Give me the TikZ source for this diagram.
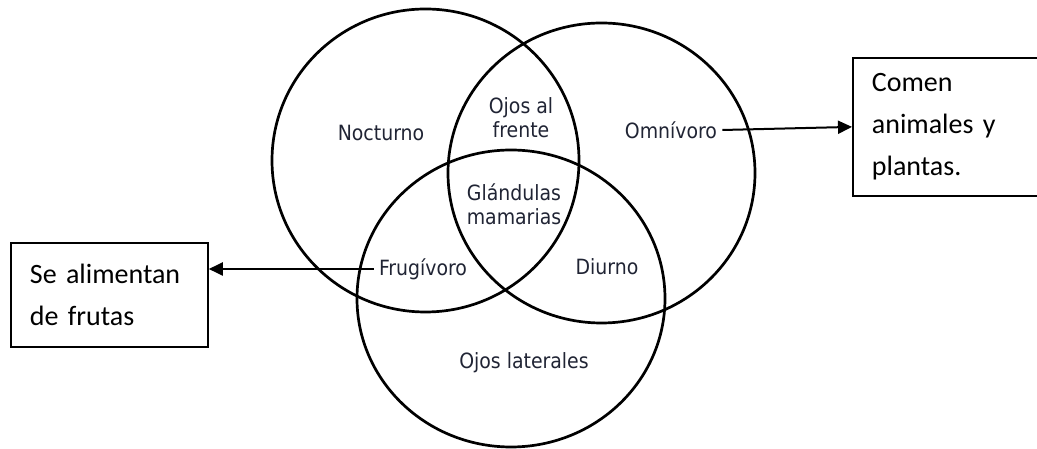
\documentclass[tikz,border=0pt]{standalone}
\usepackage{fontspec}
\newfontfamily\vennfont{DejaVu Sans Condensed}
\newfontfamily\boxfont{Carlito}
\definecolor{venntext}{RGB}{32,36,52}
\usetikzlibrary{arrows.meta, positioning}

\begin{document}
\begin{tikzpicture}[x=1pt, y=1pt, line width=2.7pt,
  vennlabel/.style={font=\vennfont\fontsize{21}{24}\selectfont, text=venntext, align=center, inner sep=4pt},
  notebox/.style={draw, line width=1.8pt, font=\boxfont\fontsize{28}{42}\selectfont, align=left, inner xsep=19pt, inner ysep=0pt},
  pointer/.style={-{Triangle[length=14pt, width=13pt]}, line width=2pt}];

\useasboundingbox (0,0) rectangle (1037,449);

\draw (425.5,288.5) ellipse [x radius=153.5, y radius=151.5];
\draw (601.5,276) ellipse [x radius=153.5, y radius=150];
\draw (511,150.5) ellipse [x radius=154, y radius=148.5];

\node[vennlabel] (nocturno) at (381,316) {Nocturno};
\node[vennlabel] (frente) at (521,331) {Ojos al\\frente};
\node[vennlabel] (omnivoro) at (671,319) {Omnívoro};
\node[vennlabel] (glandulas) at (514,245) {Glándulas\\mamarias};
\node[vennlabel] (frugivoro) at (423,180) {Frugívoro};
\node[vennlabel] (diurno) at (607,182) {Diurno};
\node[vennlabel] (laterales) at (524,86) {Ojos laterales};

\node[notebox, text width=159pt, minimum height=104pt, anchor=north west] (frutas) at (10,207) {Se alimentan\\de frutas};
\node[notebox, text width=185pt, minimum height=138pt, anchor=north west] (plantas) at (852,392) {Comen\\animales y\\plantas.};

\draw[pointer] (frugivoro.west) -- (frugivoro.west -| frutas.east);
\draw[pointer] (omnivoro.east) -- (plantas.west);
\end{tikzpicture}
\end{document}
